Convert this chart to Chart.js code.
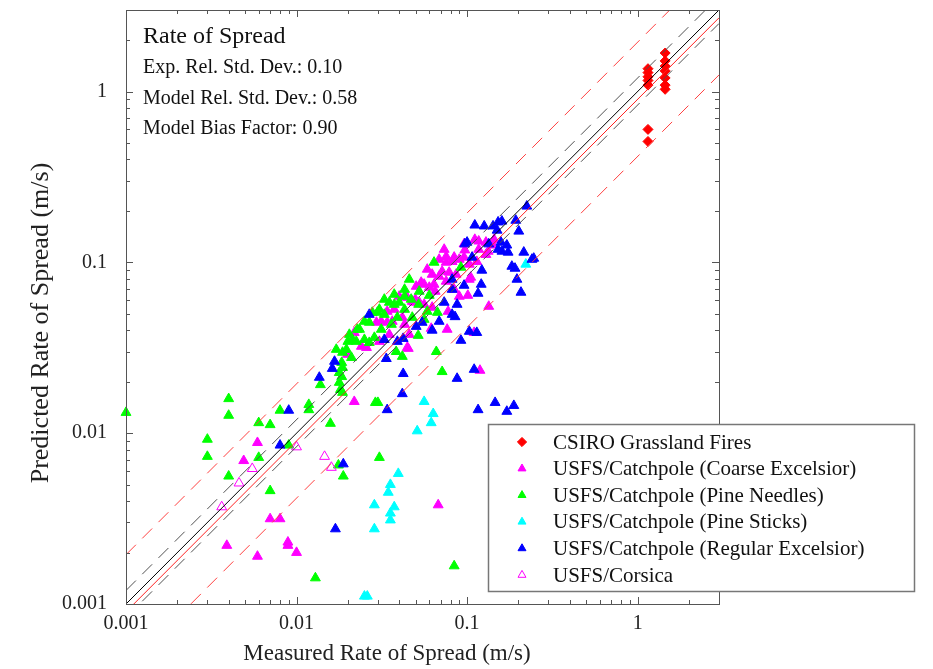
<!DOCTYPE html>
<html>
<head>
<meta charset="utf-8">
<script src="https://cdn.jsdelivr.net/npm/chart.js@4.4.1/dist/chart.umd.min.js"></script>
<style>
  body { margin: 0; background: #fff; }
</style>
</head>
<body>
<canvas id="ros" width="933" height="669"></canvas>
<script>
// measured vs predicted rate of spread, m/s
var csiroGrass = [
  [1.15,1.36],[1.15,1.29],[1.15,1.22],[1.15,1.16],[1.15,1.09],[1.15,0.60],[1.15,0.51],
  [1.45,1.68],[1.45,1.51],[1.45,1.41],[1.45,1.32],[1.45,1.20],[1.45,1.09],[1.45,1.03]
];
var coarseExcelsior = [
  [0.0059,0.0088],[0.0049,0.0069],[0.007,0.00315],[0.008,0.00315],[0.0039,0.0022],[0.0059,0.0019],
  [0.0089,0.0023],[0.0089,0.0022],[0.010,0.0020],[0.0218,0.0153],[0.0677,0.0038],[0.119,0.0233],
  [0.134,0.0552],[0.110,0.0388],[0.0764,0.0405],[0.0616,0.041],[0.0452,0.0313],[0.0218,0.0388],
  [0.024,0.0322],[0.0257,0.0317],[0.0306,0.0344],[0.0294,0.0445],[0.0314,0.0451],[0.034,0.0445],
  [0.034,0.0516],[0.0364,0.0451],[0.0417,0.0476],[0.0446,0.0317],[0.0458,0.0378],[0.040,0.0632],
  [0.0446,0.0623],[0.0477,0.059],[0.0524,0.0583],[0.0503,0.0723],[0.056,0.0743],[0.060,0.0713],
  [0.065,0.0676],[0.0538,0.0763],[0.0624,0.085],[0.0686,0.0828],[0.0714,0.0885],[0.0785,0.0874],
  [0.0862,0.085],[0.0754,0.0774],[0.0754,0.108],[0.084,0.107],[0.0817,0.101],[0.0754,0.100],
  [0.103,0.0795],[0.105,0.0817],[0.101,0.064],[0.090,0.0632],[0.117,0.133],[0.129,0.131],
  [0.133,0.116],[0.129,0.111],[0.111,0.136],[0.144,0.136],[0.0497,0.0607],[0.049,0.0583],
  [0.056,0.0567],[0.0774,0.0516],[0.0624,0.0545],[0.0199,0.0289],[0.096,0.107],[0.0686,0.104],
  [0.114,0.101],[0.142,0.126],[0.097,0.118],[0.0584,0.091],[0.090,0.104],[0.096,0.128],
  [0.0734,0.119],[0.064,0.0743],[0.084,0.0694],[0.103,0.0974],[0.117,0.119],[0.0374,0.053],
  [0.043,0.0433],[0.035,0.0378]
];
var pineNeedles = [
  [0.001,0.0132],[0.004,0.0159],[0.004,0.0127],[0.003,0.0092],[0.003,0.0073],[0.004,0.0056],
  [0.006,0.0115],[0.006,0.0072],[0.007,0.0112],[0.007,0.0046],[0.008,0.0136],[0.009,0.0085],
  [0.0118,0.0147],[0.0118,0.0137],[0.0158,0.0114],[0.0129,0.00142],[0.0176,0.0065],[0.0188,0.0056],
  [0.0306,0.0072],[0.029,0.0151],[0.030,0.0151],[0.084,0.00167],[0.0138,0.0192],[0.0181,0.018],
  [0.0714,0.0229],[0.066,0.030],[0.0517,0.0373],[0.0417,0.0281],[0.0384,0.030],[0.0178,0.0198],
  [0.0186,0.0173],[0.0184,0.0214],[0.0178,0.0226],[0.0186,0.0242],[0.0184,0.0259],[0.0171,0.0309],
  [0.0196,0.0309],[0.0186,0.0297],[0.021,0.0277],[0.0213,0.0353],[0.0224,0.0344],[0.025,0.0353],
  [0.0267,0.0339],[0.0286,0.0363],[0.0267,0.0445],[0.0278,0.0509],[0.0298,0.0509],[0.035,0.0583],
  [0.0374,0.0567],[0.040,0.0583],[0.0458,0.0795],[0.0477,0.0476],[0.056,0.0463],[0.0584,0.0516],
  [0.064,0.100],[0.092,0.0935],[0.060,0.064],[0.067,0.0509],[0.043,0.0632],[0.0314,0.0405],
  [0.036,0.0433],[0.0234,0.0405],[0.020,0.0344],[0.039,0.0476],[0.043,0.053],[0.052,0.0567],
  [0.0327,0.0607],[0.0306,0.053],[0.025,0.0451],[0.0227,0.0405],[0.0204,0.0378],[0.0374,0.0649],
  [0.043,0.0694],[0.047,0.0607],[0.0524,0.0676],[0.0327,0.0495]
];
var pineSticks = [
  [0.056,0.0153],[0.0633,0.013],[0.0616,0.0115],[0.051,0.0103],[0.0395,0.0058],[0.0355,0.005],
  [0.0345,0.0045],[0.0286,0.0038],[0.0374,0.0037],[0.0355,0.0034],[0.0355,0.0031],[0.0286,0.00275],
  [0.025,0.00111],[0.026,0.00111],[0.221,0.0974]
];
var regularExcelsior = [
  [0.009,0.0136],[0.008,0.0085],[0.0188,0.0066],[0.0169,0.00275],[0.034,0.0137],[0.0417,0.017],
  [0.0422,0.0223],[0.0336,0.0273],[0.039,0.0344],[0.0422,0.0358],[0.0503,0.0421],[0.0136,0.0212],
  [0.116,0.0137],[0.146,0.0151],[0.171,0.0134],[0.188,0.0145],[0.0874,0.0209],[0.110,0.0236],
  [0.092,0.0349],[0.103,0.0394],[0.114,0.0388],[0.0624,0.040],[0.085,0.048],[0.0167,0.0263],
  [0.0162,0.0239],[0.0267,0.0495],[0.0327,0.0353],[0.224,0.213],[0.152,0.172],[0.160,0.174],
  [0.193,0.176],[0.111,0.165],[0.126,0.163],[0.142,0.163],[0.150,0.154],[0.201,0.152],
  [0.100,0.131],[0.097,0.128],[0.158,0.131],[0.152,0.119],[0.160,0.116],[0.171,0.126],
  [0.174,0.1145],[0.215,0.1145],[0.246,0.1055],[0.240,0.104],[0.183,0.0947],[0.191,0.0922],
  [0.196,0.0795],[0.207,0.0667],[0.107,0.107],[0.122,0.0898],[0.121,0.0743],[0.116,0.0658],
  [0.0817,0.0795],[0.096,0.0733],[0.0734,0.0583],[0.0874,0.0567],[0.0817,0.0495],[0.0817,0.0694],
  [0.134,0.128],[0.0545,0.0445],[0.0686,0.0451]
];
var corsica = [
  [0.00364,0.0037],[0.0046,0.0051],[0.0055,0.0062],[0.010,0.0083],[0.0146,0.0073],[0.016,0.0063]
];

var decadeTicks = [0.001, 0.01, 0.1, 1];
var axisMin = 0.001, axisMax = 3;
var lineX = [0.001, 3];
var biasFactor = 0.90;
var expSigma = 0.10;
var modelSigma = 0.58;

var statsLines = ['Exp. Rel. Std. Dev.: 0.10', 'Model Rel. Std. Dev.: 0.58', 'Model Bias Factor: 0.90'];
var xTitle = 'Measured Rate of Spread (m/s)';
var yTitle = 'Predicted Rate of Spread (m/s)';

var serif = 'Liberation Serif, Times New Roman, serif';

function pts(arr) {
  return arr.map(function(p) { return {x: p[0], y: p[1]}; });
}
function lineData(f) {
  return lineX.map(function(v) { return {x: v, y: v * f}; });
}

var series = [
  {label: 'CSIRO Grassland Fires', data: csiroGrass, color: '#ff0000', style: 'rectRot', open: false},
  {label: 'USFS/Catchpole (Coarse Excelsior)', data: coarseExcelsior, color: '#ff00ff', style: 'triangle', open: false},
  {label: 'USFS/Catchpole (Pine Needles)', data: pineNeedles, color: '#00ff00', style: 'triangle', open: false},
  {label: 'USFS/Catchpole (Pine Sticks)', data: pineSticks, color: '#00ffff', style: 'triangle', open: false},
  {label: 'USFS/Catchpole (Regular Excelsior)', data: regularExcelsior, color: '#0000ff', style: 'triangle', open: false},
  {label: 'USFS/Corsica', data: corsica, color: '#ff00ff', style: 'triangle', open: true}
];

var datasets = [];
// reference lines
function refLine(f, color, dash) {
  datasets.push({
    type: 'line', data: lineData(f), borderColor: color, borderWidth: 1,
    borderDash: dash, pointRadius: 0, fill: false, clip: 0, order: 0
  });
}
refLine(1, '#000000', []);
refLine(1 + 2 * expSigma, '#505050', [14, 9]);
refLine(1 / (1 + 2 * expSigma), '#505050', [14, 9]);
refLine(biasFactor, '#ff2020', []);
refLine(biasFactor * (1 + 2 * modelSigma), '#ff4040', [14, 9]);
refLine(biasFactor / (1 + 2 * modelSigma), '#ff4040', [14, 9]);

series.forEach(function(s, i) {
  datasets.push({
    label: s.label,
    data: pts(s.data),
    pointStyle: s.style,
    pointRadius: s.style == 'rectRot' ? 5 : 5.7,
    pointBorderWidth: 1,
    pointBorderColor: s.color,
    pointBackgroundColor: s.open ? 'rgba(0,0,0,0)' : s.color,
    showLine: false,
    clip: false,
    order: series.length - i
  });
});

// frame, inward ticks, titles, text box and legend
var extras = {
  id: 'extras',
  afterDraw: function(chart) {
    var ctx = chart.ctx, a = chart.chartArea;
    var xs = chart.scales.x, ys = chart.scales.y;
    ctx.save();
    ctx.strokeStyle = '#555';
    ctx.lineWidth = 1;
    ctx.strokeRect(Math.round(a.left) + 0.5, Math.round(a.top) + 0.5,
      Math.round(a.right - a.left), Math.round(a.bottom - a.top));

    ctx.beginPath();
    decadeTicks.forEach(function(dec) {
      for (var k = 1; k <= 9; k++) {
        var v = dec * k;
        if (v < axisMin || v > axisMax) continue;
        var len = k == 1 ? 7 : 4;
        var px = Math.round(xs.getPixelForValue(v)) + 0.5;
        ctx.moveTo(px, a.bottom); ctx.lineTo(px, a.bottom - len);
        ctx.moveTo(px, a.top); ctx.lineTo(px, a.top + len);
        var py = Math.round(ys.getPixelForValue(v)) + 0.5;
        ctx.moveTo(a.left, py); ctx.lineTo(a.left + len, py);
        ctx.moveTo(a.right, py); ctx.lineTo(a.right - len, py);
      }
    });
    ctx.stroke();

    // axis titles
    ctx.fillStyle = '#222';
    ctx.textBaseline = 'middle';
    ctx.textAlign = 'center';
    ctx.font = '23px ' + serif;
    ctx.fillText(xTitle, 387, 654);
    ctx.save();
    ctx.translate(41, 323);
    ctx.rotate(-Math.PI / 2);
    ctx.font = '26px ' + serif;
    ctx.fillText(yTitle, 0, 0);
    ctx.restore();

    // stats text
    ctx.fillStyle = '#111';
    ctx.textAlign = 'left';
    ctx.font = '24px ' + serif;
    ctx.fillText('Rate of Spread', 143, 37);
    ctx.font = '20px ' + serif;
    statsLines.forEach(function(t, i) {
      ctx.fillText(t, 143, 68 + i * 30.5);
    });

    // legend box
    ctx.fillStyle = '#fff';
    ctx.fillRect(488, 424, 427, 168);
    ctx.strokeStyle = '#777';
    ctx.lineWidth = 1.5;
    ctx.strokeRect(488.5, 424.5, 426, 167);
    ctx.font = '21px ' + serif;
    series.forEach(function(s, i) {
      var y = 442 + i * 26.6;
      ctx.fillStyle = s.open ? 'rgba(0,0,0,0)' : s.color;
      ctx.strokeStyle = s.color;
      ctx.lineWidth = 1;
      Chart.helpers.drawPoint(ctx, {pointStyle: s.style, radius: 4.6, borderWidth: 1, rotation: 0}, 522, y);
      ctx.fillStyle = '#111';
      ctx.fillText(s.label, 553, y + 1);
    });
    ctx.restore();
  }
};

var tickFont = {family: serif, size: 20};

new Chart(document.getElementById('ros').getContext('2d'), {
  type: 'scatter',
  data: {datasets: datasets},
  options: {
    responsive: false,
    animation: false,
    devicePixelRatio: 1,
    layout: {padding: {top: 10, right: 214, left: 0, bottom: 0}},
    plugins: {legend: {display: false}, tooltip: {enabled: false}},
    scales: {
      x: {
        type: 'logarithmic', min: axisMin, max: axisMax,
        grid: {display: false, drawTicks: false},
        border: {display: false},
        afterBuildTicks: function(s) { s.ticks = decadeTicks.map(function(v) { return {value: v}; }); },
        afterFit: function(s) { s.height = 65; s.paddingLeft = 0; s.paddingRight = 0; },
        ticks: {font: tickFont, color: '#222', padding: 8, autoSkip: false, maxRotation: 0,
          callback: function(v) { return String(v); }}
      },
      y: {
        type: 'logarithmic', min: axisMin, max: axisMax,
        grid: {display: false, drawTicks: false},
        border: {display: false},
        afterBuildTicks: function(s) { s.ticks = decadeTicks.map(function(v) { return {value: v}; }); },
        afterFit: function(s) { s.width = 126; s.paddingTop = 0; s.paddingBottom = 0; },
        ticks: {font: tickFont, color: '#222', padding: 19, autoSkip: false,
          callback: function(v) { return String(v); }}
      }
    }
  },
  plugins: [extras]
});
</script>
</body>
</html>
